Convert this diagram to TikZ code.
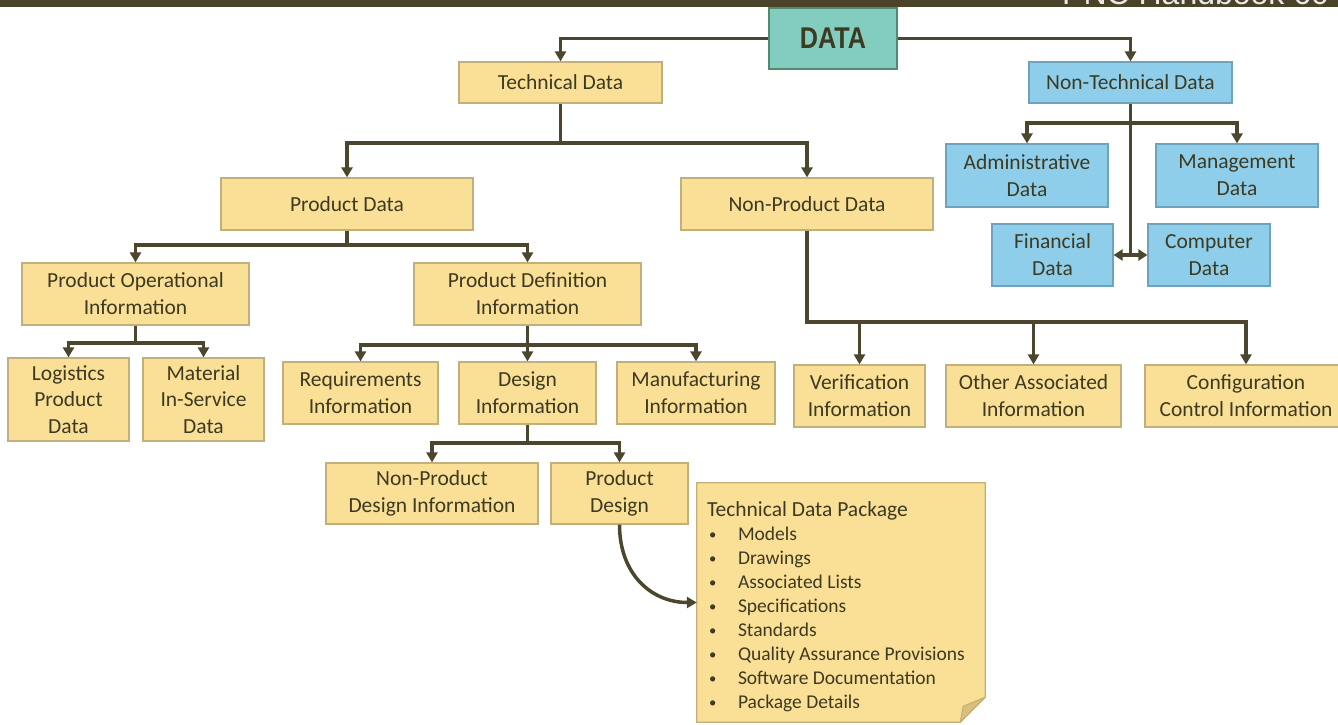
\documentclass[tikz,border=0pt]{standalone}
\usepackage{fontspec}
\usepackage{graphicx}
\setmainfont{Carlito}
\newfontfamily\headfont{Liberation Sans}
\usetikzlibrary{arrows.meta}

\definecolor{barcol}{HTML}{4B4329}
\definecolor{wire}{HTML}{4B462D}
\definecolor{txt}{HTML}{3D3A22}
\definecolor{yelfill}{HTML}{FADF96}
\definecolor{yelline}{HTML}{C2B07C}
\definecolor{blufill}{HTML}{8FCEEA}
\definecolor{bluline}{HTML}{6FA3BC}
\definecolor{tealfill}{HTML}{82CDBF}
\definecolor{tealline}{HTML}{4F8B6C}
\definecolor{foldcol}{HTML}{D8BF7C}

\newcommand\boxfont{\fontsize{21.5}{27}\selectfont}
\newcommand\blt{\makebox[31pt][l]{\hspace{2pt}\raisebox{1pt}{\scalebox{0.75}{•}}}}

\tikzset{
  yel/.style={draw=yelline, fill=yelfill, line width=1.2pt, inner sep=0pt,
              align=center, text=txt, font=\boxfont},
  blu/.style={yel, draw=bluline, fill=blufill},
  link/.style={draw=wire, line width=3.5pt},
  arr/.style={link, -{Triangle[length=10pt,width=11pt]}},
  dbl/.style={link, {Triangle[length=9pt,width=11pt]}-{Triangle[length=9pt,width=11pt]}},
}

\begin{document}
\begin{tikzpicture}[x=1pt,y=-1pt]
\useasboundingbox (0,0) rectangle (1338,725);

% header strip with running title
\fill[barcol] (0,0) rectangle (1338,7.5);
\begin{scope}
  \clip (0,0) rectangle (1338,7.5);
  \node[anchor=base west, inner sep=0pt, text=white!88!barcol,
        font=\headfont\fontsize{32}{32}\selectfont] (hdr) at (1062,5) {PNC Handbook 60};
\end{scope}

% root
\node[draw=tealline, fill=tealfill, line width=1.2pt, inner sep=0pt,
      minimum width=128pt, minimum height=61pt, text=txt] (data) at (833,38.5)
      {\headfont\bfseries\fontsize{30}{30}\selectfont\scalebox{0.84}[1]{DATA}};

% level 1
\node[yel, minimum width=203pt, minimum height=41pt] (tech) at (560.5,82.5) {Technical Data};
\node[blu, minimum width=203pt, minimum height=41pt] (nontech) at (1130.5,82.5) {Non-Technical Data};

% non-technical branch
\node[blu, minimum width=162pt, minimum height=63pt] (admin) at (1027,175.5) {Administrative\\Data};
\node[blu, minimum width=162pt, minimum height=63pt] (mgmt) at (1237,175.5) {Management\\Data};
\node[blu, minimum width=121pt, minimum height=62pt] (fin) at (1052.5,255) {Financial\\Data};
\node[blu, minimum width=122pt, minimum height=62pt] (comp) at (1209,255) {Computer\\Data};

% technical branch
\node[yel, minimum width=252pt, minimum height=52pt] (prod) at (347,204) {Product Data};
\node[yel, minimum width=252pt, minimum height=52pt] (nonprod) at (807,204) {Non-Product Data};

\node[yel, minimum width=227pt, minimum height=62pt] (poi) at (135.5,294) {Product Operational\\Information};
\node[yel, minimum width=227pt, minimum height=62pt] (pdi) at (527.5,294) {Product Definition\\Information};

\node[yel, minimum width=121pt, minimum height=83pt, font=\fontsize{21.5}{26.5}\selectfont] (log) at (68.5,399.5) {Logistics\\Product\\Data};
\node[yel, minimum width=121pt, minimum height=83pt, font=\fontsize{21.5}{26.5}\selectfont] (mat) at (203.5,399.5) {Material\\In-Service\\Data};

\node[yel, minimum width=155pt, minimum height=62pt] (req) at (360.5,393) {Requirements\\Information};
\node[yel, minimum width=137pt, minimum height=62pt] (des) at (527.5,393) {Design\\Information};
\node[yel, minimum width=158pt, minimum height=62pt] (man) at (696,393) {Manufacturing\\Information};

\node[yel, minimum width=212pt, minimum height=61pt] (npdi) at (432,493.5) {Non-Product\\Design Information};
\node[yel, minimum width=137pt, minimum height=61pt] (pd) at (619.5,493.5) {Product\\Design};

\node[yel, minimum width=131pt, minimum height=62pt] (ver) at (859.5,396) {Verification\\Information};
\node[yel, minimum width=175pt, minimum height=62pt] (oth) at (1033.5,396) {Other Associated\\Information};
\node[yel, minimum width=202pt, minimum height=62pt] (cfg) at (1246,396) {Configuration\\Control Information};

% technical data package note with folded corner
\node[minimum width=288pt, minimum height=239pt, inner sep=0pt] (note) at (841,602.5) {};
\filldraw[fill=yelfill, draw=yelline, line width=1.2pt]
  (note.north west) -- (note.north east) -- ([yshift=25pt]note.south east)
  -- ([xshift=-25pt]note.south east) -- (note.south west) -- cycle;
\filldraw[fill=foldcol, draw=yelline, line width=1pt, line join=round]
  ([yshift=25pt]note.south east) -- ([xshift=-22pt,yshift=16pt]note.south east)
  -- ([xshift=-25pt]note.south east) -- cycle;
\node[anchor=north west, inner sep=0pt, align=left, text=txt,
      font=\fontsize{19.5}{24}\selectfont] (tdp) at ([xshift=10pt,yshift=-19pt]note.north west)
  {{\fontsize{21.5}{24}\selectfont Technical Data Package}\\
   \blt Models\\
   \blt Drawings\\
   \blt Associated Lists\\
   \blt Specifications\\
   \blt Standards\\
   \blt Quality Assurance Provisions\\
   \blt Software Documentation\\
   \blt Package Details};

% connectors: root
\draw[arr] (data.west) -| (tech.north);
\draw[arr] (data.east) -| (nontech.north);

% connectors: non-technical
\coordinate (nt1) at (1130.5,123);
\draw[link] (nontech.south) -- (nontech.south |- fin.east);
\draw[arr] (nt1) -| (admin.north);
\draw[arr] (nt1) -| (mgmt.north);
\draw[dbl] (fin.east) -- (comp.west);

% connectors: technical
\coordinate (t1) at (560.5,143);
\draw[link] (tech.south) -- (t1);
\draw[arr] (t1) -| (prod.north);
\draw[arr] (t1) -| (nonprod.north);

\coordinate (p1) at (347,245);
\draw[link] (prod.south) -- (p1);
\draw[arr] (p1) -| (poi.north);
\draw[arr] (p1) -| (pdi.north);

\coordinate (o1) at (135.5,343);
\draw[link] (poi.south) -- (o1);
\draw[arr] (o1) -| (log.north);
\draw[arr] (o1) -| (mat.north);

\coordinate (d1) at (527.5,345);
\draw[arr] (pdi.south) -- (des.north);
\draw[arr] (d1) -| (req.north);
\draw[arr] (d1) -| (man.north);

\coordinate (g1) at (527.5,443);
\draw[link] (des.south) -- (g1);
\draw[arr] (g1) -| (npdi.north);
\draw[arr] (g1) -| (pd.north);

\coordinate (n1) at (807,322);
\draw[arr] (nonprod.south) -- (n1) -| (cfg.north);
\draw[arr] (ver.north |- n1) -- (ver.north);
\draw[arr] (oth.north |- n1) -- (oth.north);

\draw[arr] (pd.south) .. controls +(0,50) and +(-45,0) .. (note.west);
\end{tikzpicture}
\end{document}
